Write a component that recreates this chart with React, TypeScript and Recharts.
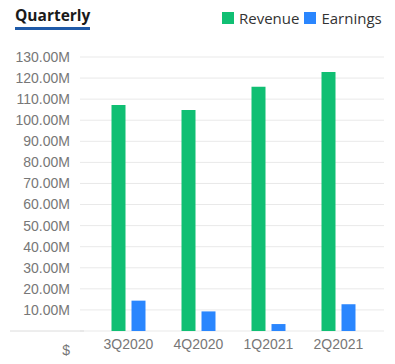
import { BarChart, Bar, XAxis, YAxis, CartesianGrid } from "recharts";

// values in millions of $
const quarters = ["3Q2020", "4Q2020", "1Q2021", "2Q2021"];
const revenue = [107.2, 104.8, 115.9, 122.9];
const earnings = [14.4, 9.3, 3.3, 12.7];
const yTicks = [0, 10, 20, 30, 40, 50, 60, 70, 80, 90, 100, 110, 120, 130];

const GREEN = "#10bf73";
const BLUE = "#2a86fe";
const AXIS_FONT = "'Liberation Sans', Arial, sans-serif";

const data = quarters.map((q, i) => ({ quarter: q, revenue: revenue[i], earnings: earnings[i] }));

function YTick({ x, y, payload }: { x: number; y: number; payload: { value: number } }) {
  const v = payload.value;
  if (v === 0) {
    return (
      <g>
        <line x1={10} x2={x + 12} y1={y} y2={y} stroke="#dcdcdc" />
        <text x={x - 2} y={y + 19} dy="0.35em" textAnchor="end" fill="#777" fontSize={14} fontFamily={AXIS_FONT}>
          $
        </text>
      </g>
    );
  }
  return (
    <text x={x - 2} y={y} dy="0.35em" textAnchor="end" fill="#777" fontSize={14} fontFamily={AXIS_FONT}>
      {v.toFixed(2)}M
    </text>
  );
}

function LegendItem({ color, label }: { color: string; label: string }) {
  return (
    <span style={{ display: "inline-flex", alignItems: "center", marginLeft: 5 }}>
      <span style={{ width: 12, height: 12, background: color, display: "inline-block", marginRight: 5 }} />
      {label}
    </span>
  );
}

export default function App() {
  return (
    <div style={{ position: "absolute", left: 0, top: 0, width: 395, height: 364, background: "#fff" }}>
      <div
        style={{
          position: "absolute",
          left: 15,
          top: 4,
          fontFamily: "'Open Sans', sans-serif",
          fontWeight: 700,
          fontSize: 15.5,
          color: "#1a1a1a",
          borderBottom: "3px solid #1f5aa8",
          lineHeight: "22px",
          paddingBottom: 1,
        }}
      >
        Quarterly
      </div>
      <div
        style={{
          position: "absolute",
          left: 217,
          top: 6,
          fontFamily: "'Open Sans', sans-serif",
          fontSize: 15,
          color: "#333",
          lineHeight: "24px",
          whiteSpace: "nowrap",
        }}
      >
        <LegendItem color={GREEN} label="Revenue" />
        <LegendItem color={BLUE} label="Earnings" />
      </div>
      <BarChart
        width={395}
        height={364}
        data={data}
        margin={{ top: 57, right: 11, left: 0, bottom: 0 }}
        barGap={6}
      >
        <CartesianGrid vertical={false} stroke="#e9e9e9" />
        <XAxis
          dataKey="quarter"
          axisLine={false}
          tickLine={false}
          height={33}
          padding={{ left: 13.5, right: 10.5 }}
          tick={{ fontSize: 14, fill: "#777", fontFamily: AXIS_FONT }}
          interval={0}
        />
        <YAxis
          width={80}
          domain={[0, 130]}
          ticks={yTicks}
          interval={0}
          axisLine={false}
          tickLine={false}
          tickMargin={2}
          tick={YTick}
        />
        <Bar dataKey="revenue" fill={GREEN} barSize={14} isAnimationActive={false} />
        <Bar dataKey="earnings" fill={BLUE} barSize={14} isAnimationActive={false} />
      </BarChart>
    </div>
  );
}
